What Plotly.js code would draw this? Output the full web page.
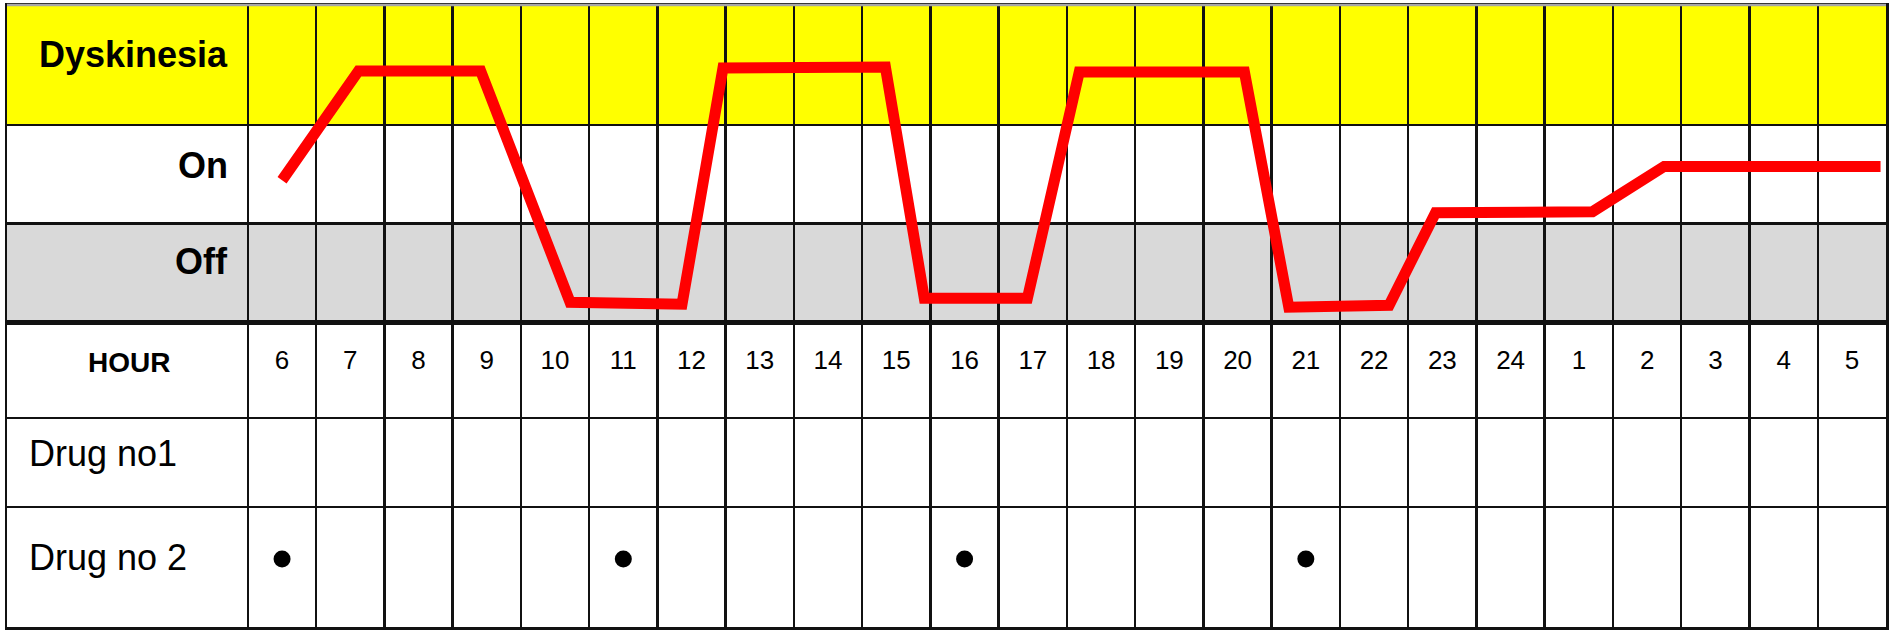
<!DOCTYPE html>
<html>
<head>
<meta charset="utf-8">
<script src="https://cdn.plot.ly/plotly-3.0.1.min.js"></script>
<style>
    html, body { margin: 0; padding: 0; background: #fff; }
    #chart { width: 1894px; height: 636px; }
</style>
</head>
<body>
<div id="chart"></div>
<script>
// Hour columns, left to right (the day runs on past midnight)
const hours = ['6', '7', '8', '9', '10', '11', '12', '13', '14', '15', '16', '17', '18', '19', '20', '21', '22', '23', '24', '1', '2', '3', '4', '5'];

// Red state line: position along the hour columns (0 = column "6")
// and state level (0-1 Off, 1-2 On, above 2 Dyskinesia)
const statePos   = [0, 1.12, 2.91, 4.22, 5.86, 6.46, 8.84, 9.41, 10.92, 11.68, 14.1, 14.75, 16.22, 16.9, 19.2, 20.25, 23.42];
const stateLevel = [1.44, 2.55, 2.55, 0.2, 0.18, 2.58, 2.59, 0.24, 0.24, 2.54, 2.54, 0.15, 0.17, 1.11, 1.12, 1.58, 1.58];

// Doses taken (drug no1 has none)
const drug1Hours = [];
const drug2Hours = ['6', '11', '16', '21'];

const stateLabels = ['Dyskinesia', 'On', 'Off'];
const tableLabels = ['HOUR', 'Drug no1', 'Drug no 2'];

// ---- layout helpers ----
const W = 1894, H = 636;
const FONT = 'Liberation Sans, Arial, Helvetica, sans-serif';
const LINE = '#111';
const px = x => x / W;
const py = y => 1 - y / H;
const labelCols = 3.53; // label column width, in hour columns

// column boundaries between hours
const colEdges = hours.map((h, i) => i - 0.5);

const idx = list => list.map(h => hours.indexOf(h));

const traces = [
    {
        x: statePos,
        y: stateLevel,
        xaxis: 'x', yaxis: 'y',
        mode: 'lines',
        line: { color: '#ff0000', width: 11 },
        hoverinfo: 'skip'
    },
    {
        x: hours.map((h, i) => i),
        y: hours.map(() => 2.65),
        text: hours,
        xaxis: 'x', yaxis: 'y2',
        mode: 'text',
        textposition: 'middle center',
        textfont: { family: FONT, size: 26, color: '#000' },
        hoverinfo: 'skip'
    },
    {
        x: idx(drug1Hours),
        y: drug1Hours.map(() => 1.74),
        xaxis: 'x', yaxis: 'y2',
        mode: 'markers',
        marker: { size: 17, color: '#000' },
        hoverinfo: 'skip'
    },
    {
        x: idx(drug2Hours),
        y: drug2Hours.map(() => 0.68),
        xaxis: 'x', yaxis: 'y2',
        mode: 'markers',
        marker: { size: 17, color: '#000' },
        hoverinfo: 'skip'
    }
];

const axisBase = {
    showline: true,
    linecolor: LINE,
    linewidth: 2.5,
    showgrid: true,
    gridcolor: LINE,
    gridwidth: 2.5,
    zeroline: false,
    ticks: '',
    showticklabels: false,
    tickmode: 'array',
    fixedrange: true
};

// label heights inside their rows
const stateY = [2.72, 1.585, 0.61];
const tableY = [2.65, 1.74, 0.70];

const annotations = [];
stateLabels.forEach((t, i) => {
    annotations.push({
        text: t,
        xref: 'paper', yref: 'y',
        x: px(230), y: stateY[i],
        xanchor: 'right', yanchor: 'middle',
        showarrow: false,
        font: { family: FONT, size: 36, color: '#000', weight: 700 }
    });
});
annotations.push({
    text: tableLabels[0],
    xref: 'paper', yref: 'y2',
    x: px(129), y: tableY[0],
    xanchor: 'center', yanchor: 'middle',
    showarrow: false,
    font: { family: FONT, size: 28, color: '#000', weight: 700 }
});
tableLabels.slice(1).forEach((t, i) => {
    annotations.push({
        text: t,
        xref: 'paper', yref: 'y2',
        x: px(27), y: tableY[i + 1],
        xanchor: 'left', yanchor: 'middle',
        showarrow: false,
        font: { family: FONT, size: 36, color: '#000' }
    });
});

const layout = {
    width: W,
    height: H,
    margin: { l: 0, r: 0, t: 0, b: 0, pad: 0 },
    paper_bgcolor: '#fff',
    plot_bgcolor: '#fff',
    showlegend: false,
    xaxis: Object.assign({}, axisBase, {
        domain: [px(7), px(1886)],
        range: [-0.5 - labelCols, hours.length - 0.5],
        tickvals: colEdges,
        anchor: 'y2',
        mirror: 'all'
    }),
    yaxis: Object.assign({}, axisBase, {
        domain: [py(322), py(5)],
        range: [0, 3.22],
        tickvals: [1, 2],
        anchor: 'x',
        mirror: true
    }),
    yaxis2: Object.assign({}, axisBase, {
        domain: [py(627), py(322)],
        range: [0, 3.05],
        tickvals: [1.2, 2.09],
        anchor: 'x',
        mirror: true
    }),
    shapes: [
        // Dyskinesia band
        { type: 'rect', layer: 'below', xref: 'x domain', yref: 'y', x0: 0, x1: 1, y0: 2, y1: 3.22,
          fillcolor: '#ffff00', line: { width: 0 } },
        // Off band
        { type: 'rect', layer: 'below', xref: 'x domain', yref: 'y', x0: 0, x1: 1, y0: 0, y1: 1,
          fillcolor: '#d9d9d9', line: { width: 0 } },
        // light top edge
        { type: 'line', layer: 'above', xref: 'x domain', yref: 'y domain', x0: 0, x1: 1, y0: 1, y1: 1,
          line: { color: '#a6a6a6', width: 2.5 } }
    ],
    annotations: annotations
};

Plotly.newPlot('chart', traces, layout, { staticPlot: true, displayModeBar: false });
</script>
</body>
</html>
